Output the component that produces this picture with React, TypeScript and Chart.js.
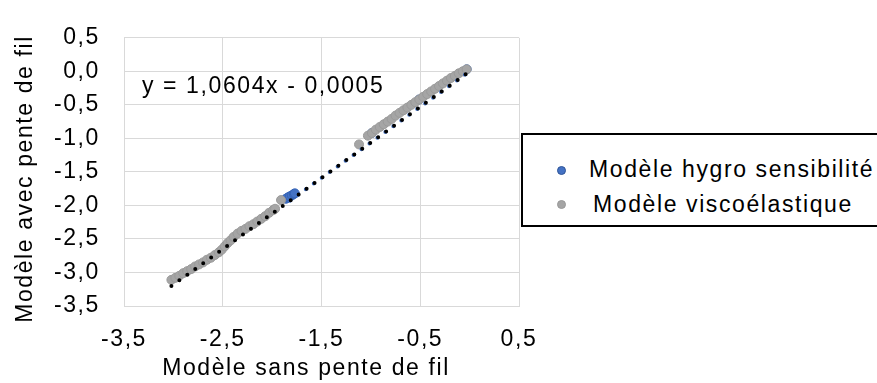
import React, { useEffect, useRef } from "react";
import { Chart, registerables } from "chart.js";

Chart.register(...registerables);

// ---------- data ----------
const seriesNames = ["Modèle hygro sensibilité", "Modèle viscoélastique"];
const xTitle = "Modèle sans pente de fil";
const yTitle = "Modèle avec pente de fil";
const equationLabel = "y = 1,0604x - 0,0005";

// Modèle hygro sensibilité (blue)
const hygroX = [-1.86, -1.84, -1.82, -1.8, -1.78, -1.77, -0.99, -0.51, -0.03];
const hygroY = [-1.9, -1.88, -1.865, -1.85, -1.83, -1.82, -0.92, -0.42, 0.03];

// Modèle viscoélastique (grey)
const viscoX = [
  -3.02, -2.98, -2.94, -2.9, -2.86, -2.82, -2.78, -2.74, -2.7, -2.66, -2.62, -2.58,
  -2.54, -2.51, -2.48, -2.45, -2.42, -2.39, -2.35, -2.31, -2.27, -2.23, -2.19, -2.15,
  -2.11, -2.07, -2.03, -1.99, -1.97, -1.91, -1.12,
  -1.03, -0.99, -0.95, -0.91, -0.87, -0.83, -0.79, -0.75, -0.71, -0.67, -0.63, -0.59,
  -0.55, -0.51, -0.47, -0.43, -0.39, -0.35, -0.31, -0.27, -0.23, -0.19, -0.15, -0.11,
  -0.07, -0.03,
];
const viscoY = [
  -3.11, -3.08, -3.05, -3.01, -2.98, -2.95, -2.91, -2.88, -2.85, -2.81, -2.78, -2.74,
  -2.7, -2.66, -2.61, -2.56, -2.52, -2.47, -2.42, -2.38, -2.35, -2.31, -2.28, -2.24,
  -2.2, -2.16, -2.11, -2.07, -2.05, -1.92, -1.09,
  -0.96, -0.92, -0.87, -0.83, -0.79, -0.75, -0.71, -0.66, -0.62, -0.58, -0.54, -0.5,
  -0.46, -0.42, -0.38, -0.34, -0.3, -0.26, -0.22, -0.18, -0.14, -0.1, -0.07, -0.03,
  0.0, 0.03,
];

// trend lines (linear, Excel style)
const viscoTrendSlope = 1.0604;
const viscoTrendIntercept = -0.0005;
const hygroTrendSlope = 1.0604;
const hygroTrendIntercept = -0.0005;

// axes
const X_MIN = -3.5;
const X_MAX = 0.5;
const X_STEP = 1;
const Y_MIN = -3.5;
const Y_MAX = 0.5;
const Y_STEP = 0.5;

// ---------- styles ----------
const FONT = "'Liberation Sans', Arial, sans-serif";
const FONT_SIZE = 23;
const LS = "1.6px";
const BLUE = "#4472C4";
const BLUE_DARK = "#3563B5";
const GREY = "#A5A5A5";
const GREY_DARK = "#9A9A9A";
const GRID = "#D9D9D9";

const fmt = (v: number) => v.toFixed(1).replace(".", ",");

function trend(xs: number[], slope: number, intercept: number) {
  const lo = Math.min(...xs);
  const hi = Math.max(...xs);
  return [
    { x: lo, y: slope * lo + intercept },
    { x: hi, y: slope * hi + intercept },
  ];
}

function patchSpacing(ctx: any) {
  if (ctx.__spacingPatched) return;
  ctx.__spacingPatched = true;
  const origFill = ctx.fillText;
  const origMeasure = ctx.measureText;
  ctx.fillText = function (...args: any[]) {
    this.letterSpacing = "0px";
    this.letterSpacing = LS;
    return origFill.apply(this, args);
  };
  ctx.measureText = function (...args: any[]) {
    this.letterSpacing = "0px";
    this.letterSpacing = LS;
    return origMeasure.apply(this, args);
  };
}

export default function App() {
  const ref = useRef<HTMLCanvasElement>(null);

  useEffect(() => {
    const canvas = ref.current;
    if (!canvas) return;

    const spacingPlugin = {
      id: "letterSpacing",
      afterInit(chart: any) {
        patchSpacing(chart.ctx);
      },
      beforeUpdate(chart: any) {
        patchSpacing(chart.ctx);
      },
    };

    const labelsPlugin = {
      id: "labels",
      afterDraw(chart: any) {
        const { ctx, chartArea } = chart;
        ctx.save();
        ctx.fillStyle = "#000";
        ctx.font = `${FONT_SIZE}px ${FONT}`;
        ctx.textBaseline = "alphabetic";
        ctx.textAlign = "left";
        ctx.fillText(equationLabel, chartArea.left + 18, chartArea.top + 55);
        ctx.textAlign = "center";
        ctx.fillText(xTitle, 306, 375);
        ctx.translate(32, 179);
        ctx.rotate(-Math.PI / 2);
        ctx.fillText(yTitle, 0, 0);
        ctx.restore();
      },
    };

    const chart = new Chart(canvas, {
      type: "scatter",
      data: {
        datasets: [
          {
            label: "trend-visco",
            data: trend(viscoX, viscoTrendSlope, viscoTrendIntercept),
            showLine: true,
            borderColor: "#000",
            borderWidth: 4,
            borderDash: [0, 9.8],
            borderCapStyle: "round",
            pointRadius: 0,
            order: 0,
          } as any,
          {
            label: "trend-hygro",
            data: trend(hygroX, hygroTrendSlope, hygroTrendIntercept),
            showLine: true,
            borderColor: BLUE,
            borderWidth: 4,
            borderDash: [0, 9.8],
            borderDashOffset: 4.9,
            borderCapStyle: "round",
            pointRadius: 0,
            order: 1,
          } as any,
          {
            label: seriesNames[1],
            data: viscoX.map((x, i) => ({ x, y: viscoY[i] })),
            backgroundColor: GREY,
            borderColor: GREY_DARK,
            borderWidth: 1,
            pointRadius: 4.5,
            order: 2,
          },
          {
            label: seriesNames[0],
            data: hygroX.map((x, i) => ({ x, y: hygroY[i] })),
            backgroundColor: BLUE,
            borderColor: BLUE_DARK,
            borderWidth: 1,
            pointRadius: 4.5,
            order: 3,
          },
        ],
      },
      options: {
        responsive: false,
        animation: false,
        devicePixelRatio: 1,
        layout: { padding: { left: 0, right: 877 - 519, top: 21, bottom: 0 } },
        plugins: {
          legend: { display: false },
          tooltip: { enabled: false },
        },
        scales: {
          x: {
            type: "linear",
            min: X_MIN,
            max: X_MAX,
            afterFit: (s: any) => {
              s.height = 77;
            },
            ticks: {
              stepSize: X_STEP,
              callback: (v: any) => fmt(Number(v)),
              color: "#000",
              font: { family: FONT, size: FONT_SIZE },
              padding: 20,
              maxRotation: 0,
            },
            grid: { color: GRID, lineWidth: 1, drawTicks: false },
            border: { color: GRID, width: 1 },
          },
          y: {
            type: "linear",
            min: Y_MIN,
            max: Y_MAX,
            afterFit: (s: any) => {
              s.width = 124;
            },
            ticks: {
              stepSize: Y_STEP,
              callback: (v: any) => fmt(Number(v)),
              color: "#000",
              font: { family: FONT, size: FONT_SIZE },
              padding: 24,
            },
            grid: { color: GRID, lineWidth: 1, drawTicks: false },
            border: { color: GRID, width: 1 },
          },
        },
      },
      plugins: [spacingPlugin, labelsPlugin],
    });

    return () => chart.destroy();
  }, []);

  const textStyle: React.CSSProperties = {
    position: "absolute",
    fontFamily: FONT,
    fontSize: FONT_SIZE,
    lineHeight: `${FONT_SIZE}px`,
    letterSpacing: LS,
    color: "#000",
    whiteSpace: "nowrap",
  };
  const dot = (bg: string, border: string, top: number): React.CSSProperties => ({
    position: "absolute",
    left: 554.5 - 521,
    top: top - 133,
    width: 9,
    height: 9,
    borderRadius: "50%",
    background: bg,
    border: `1px solid ${border}`,
    boxSizing: "border-box",
  });

  return (
    <div
      style={{
        position: "absolute",
        left: 0,
        top: 0,
        width: 877,
        height: 383,
        overflow: "hidden",
        background: "#fff",
      }}
    >
      <canvas ref={ref} width={877} height={383} style={{ width: 877, height: 383, display: "block" }} />
      <div
        style={{
          position: "absolute",
          left: 521,
          top: 133,
          width: 420,
          height: 94,
          border: "2px solid #000",
          boxSizing: "border-box",
          background: "#fff",
        }}
      >
        <div style={dot(BLUE, "#2F5597", 163.5)} />
        <div style={dot(GREY, "#999999", 197.5)} />
        <span style={{ ...textStyle, left: 587 - 521, top: 155.5 - 133 }}>{seriesNames[0]}</span>
        <span style={{ ...textStyle, left: 591 - 521, top: 190.5 - 133 }}>{seriesNames[1]}</span>
      </div>
    </div>
  );
}
